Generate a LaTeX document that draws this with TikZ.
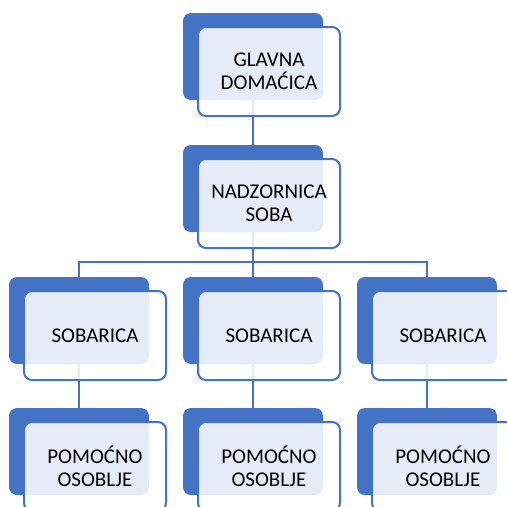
\documentclass[tikz,border=0pt]{standalone}
\usepackage{fontspec}
\setmainfont{Carlito}
\definecolor{accblue}{HTML}{4472C4}
\begin{document}
\begin{tikzpicture}[x=1pt,y=-1pt,
  backbox/.style={fill=accblue,draw=none,rounded corners=8pt,minimum width=140pt,minimum height=87pt,inner sep=0pt},
  frontbox/.style={draw=accblue,line width=2pt,fill=white,fill opacity=0.87,text opacity=1,rounded corners=8pt,minimum width=142pt,minimum height=89pt,inner sep=0pt,align=center,font=\fontsize{21}{23.3}\selectfont,text=black},
  conn/.style={draw=accblue,line width=2.5pt}]
\useasboundingbox (0,0) rectangle (507,507);
% back boxes
\node[backbox] (b1) at (253,56.5) {};
\node[backbox] (b2) at (253,188.5) {};
\node[backbox] (b3l) at (79,320.5) {};
\node[backbox] (b3m) at (253,320.5) {};
\node[backbox] (b3r) at (427,320.5) {};
\node[backbox] (b4l) at (79,451.5) {};
\node[backbox] (b4m) at (253,451.5) {};
\node[backbox] (b4r) at (427,451.5) {};
% connectors
\draw[conn] (b1.south) -- (b2.north);
\draw[conn] (b2.south) -- ++(0,30) coordinate (bus);
\draw[conn] (bus) -| (b3l.north);
\draw[conn] (bus) -| (b3r.north);
\draw[conn] (bus) -- (b3m.north);
\draw[conn] (b3l.south) -- (b4l.north);
\draw[conn] (b3m.south) -- (b4m.north);
\draw[conn] (b3r.south) -- (b4r.north);
% front boxes
\node[frontbox] (f1) at (269,71.5) {GLAVNA\\DOMAĆICA};
\node[frontbox] (f2) at (269,203.5) {NADZORNICA\\SOBA};
\node[frontbox] (f3l) at (95,335.5) {SOBARICA};
\node[frontbox] (f3m) at (269,335.5) {SOBARICA};
\node[frontbox] (f3r) at (443,335.5) {SOBARICA};
\node[frontbox] (f4l) at (95,466.5) {POMOĆNO\\OSOBLJE};
\node[frontbox] (f4m) at (269,466.5) {POMOĆNO\\OSOBLJE};
\node[frontbox] (f4r) at (443,466.5) {POMOĆNO\\OSOBLJE};
\end{tikzpicture}
\end{document}
